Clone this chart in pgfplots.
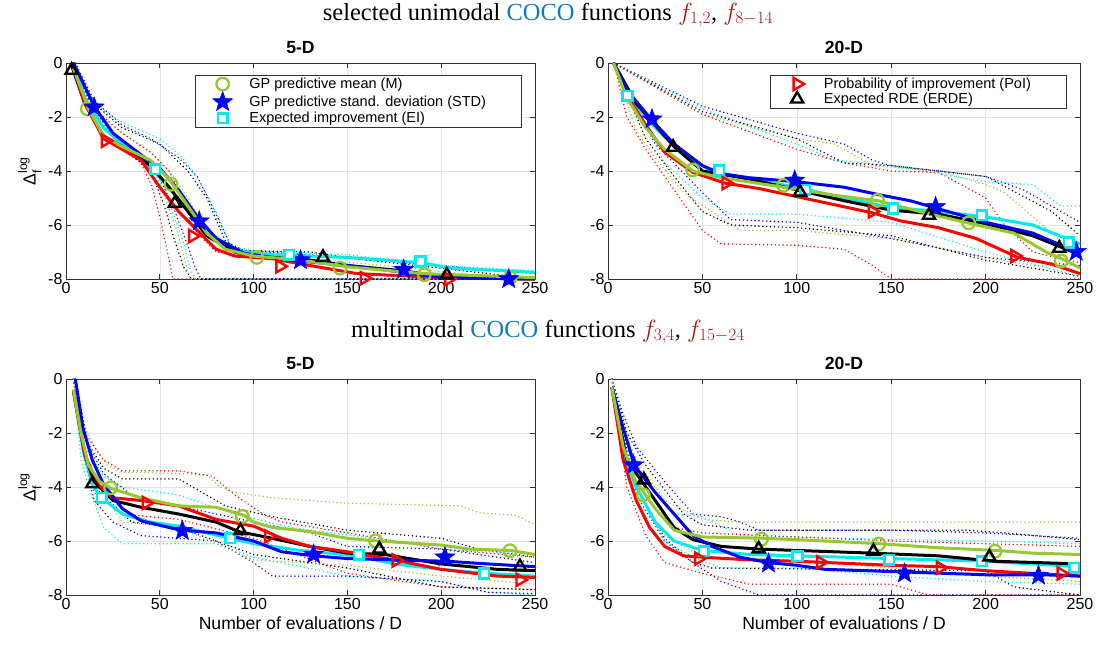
\documentclass[border=0pt]{standalone}
\usepackage{amsmath}
\usepackage{fontspec}
\setmainfont{Liberation Sans}
\newfontfamily\titlefont{Liberation Serif}
\usepackage{pgfplots}
\pgfplotsset{compat=1.18}
\definecolor{mgreen}{RGB}{150,200,50}
\definecolor{mcyan}{RGB}{0,235,240}
\definecolor{mblue}{RGB}{0,0,255}
\definecolor{mred}{RGB}{255,0,0}
\definecolor{cocoblue}{RGB}{20,120,190}
\definecolor{fred}{RGB}{170,20,20}
\pgfdeclareplotmark{fstar}{%
  \pgfmathsetlengthmacro\ri{0.42*\pgfplotmarksize}%
  \pgfpathmoveto{\pgfqpointpolar{90}{\pgfplotmarksize}}%
  \pgfpathlineto{\pgfqpointpolar{126}{\ri}}%
  \pgfpathlineto{\pgfqpointpolar{162}{\pgfplotmarksize}}%
  \pgfpathlineto{\pgfqpointpolar{198}{\ri}}%
  \pgfpathlineto{\pgfqpointpolar{234}{\pgfplotmarksize}}%
  \pgfpathlineto{\pgfqpointpolar{270}{\ri}}%
  \pgfpathlineto{\pgfqpointpolar{306}{\pgfplotmarksize}}%
  \pgfpathlineto{\pgfqpointpolar{342}{\ri}}%
  \pgfpathlineto{\pgfqpointpolar{18}{\pgfplotmarksize}}%
  \pgfpathlineto{\pgfqpointpolar{54}{\ri}}%
  \pgfpathclose
  \pgfusepathqfillstroke}
\pgfplotsset{
  base/.style={
    scale only axis, height=216pt, anchor=south west,
    xmin=0,xmax=250,ymin=-8,ymax=0,
    xtick={0,50,100,150,200,250}, ytick={-8,-6,-4,-2,0},
    grid=major, major grid style={line width=0.6pt, gray!22},
    tick align=inside, tick pos=both, major tick length=5pt,
    axis line style={line width=0.7pt, black!80},
    tick style={line width=0.7pt, black!80},
    tick label style={font=\fontsize{16}{16}\selectfont},
    /pgf/number format/assume math mode=true,
    title style={font=\bfseries\fontsize{17.6}{17.6}\selectfont, yshift=0pt},
    label style={font=\fontsize{17.6}{17.6}\selectfont},
    clip=false,
    legend cell align=left,
    legend style={at={(0.972,0.946)}, anchor=north east, draw=black!80, line width=0.7pt,
      font=\fontsize{14.5}{17}\selectfont, inner xsep=3pt, inner ysep=1.5pt, nodes={inner xsep=2.5pt, inner ysep=1.5pt}},
  },
  wleg/.style={legend image code/.code={\path[draw=none,fill=none] (0cm,0cm) (1.7cm,0cm); \draw[mark repeat=2,mark phase=2,##1] plot coordinates {(0cm,0cm) (0.85cm,0cm) (1.7cm,0cm)};}},
  sol/.style={line width=3pt, line join=round, mark=none, forget plot},
  dts/.style={line width=1.6pt, line cap=round, dash pattern=on 0pt off 3.9pt, mark=none, forget plot},
  mkM/.style={only marks, wleg, mgreen, mark=o, mark size=6.3pt, mark options={line width=2.3pt}},
  mkS/.style={only marks, wleg, mblue, mark=fstar, mark size=10.5pt, mark options={fill=mblue, line width=0.5pt}},
  mkE/.style={only marks, wleg, mcyan, mark=square*, mark size=4.8pt, mark options={fill=white, draw=mcyan, line width=2.6pt}},
  mkP/.style={only marks, wleg, mred, mark=triangle, mark size=7pt, mark options={rotate=-90, line width=2.4pt}},
  mkR/.style={only marks, wleg, black, mark=triangle, mark size=7pt, mark options={line width=2.4pt}},
}
\begin{document}
\begin{tikzpicture}
\useasboundingbox (0,0) rectangle (1097pt,648pt);
\node[font=\titlefont\fontsize{24.5}{24.5}\selectfont] at (548pt,633pt) {selected unimodal \textcolor{cocoblue}{COCO} functions \textcolor{fred}{$f_{1,2}$}, \textcolor{fred}{$f_{8-14}$}};
\node[font=\titlefont\fontsize{24.5}{24.5}\selectfont] at (548pt,316pt) {multimodal \textcolor{cocoblue}{COCO} functions \textcolor{fred}{$f_{3,4}$}, \textcolor{fred}{$f_{15-24}$}};

% ---------------- TL ----------------
\begin{axis}[base, at={(66pt,369pt)}, width=469pt, title={5-D}, ylabel={Δ$_{\text{f}}^{\text{log}}$}]
\addplot[dts,mblue] coordinates {(5,0) (15,-1.4) (30,-2.3) (45,-2.8) (60,-3.5) (70,-4.2) (80,-5.6) (88,-6.8) (95,-6.95) (130,-7.1) (180,-7.4) (250,-7.8)};
\addplot[dts,mcyan] coordinates {(4,0) (15,-1.5) (30,-2.2) (50,-2.8) (62,-3.5) (72,-4.5) (80,-5.5) (88,-6.8) (100,-6.95) (150,-7.1) (200,-7.5) (250,-7.7)};
\addplot[dts,black] coordinates {(4,0) (15,-1.5) (30,-2.4) (50,-3.0) (65,-4.0) (75,-5.0) (85,-6.6) (95,-6.95) (130,-7.0) (160,-7.3) (200,-7.6) (250,-8)};
\addplot[dts,mgreen] coordinates {(4,0) (15,-1.8) (30,-2.6) (45,-3.3) (55,-4.0) (65,-5.0) (75,-6.2) (85,-6.9) (120,-7.2) (170,-7.5) (210,-7.8) (250,-8)};
\addplot[dts,mred] coordinates {(4,0) (15,-1.7) (30,-2.6) (45,-3.3) (55,-4.0) (62,-5.0) (70,-6.3) (80,-7.0) (120,-7.3) (160,-7.6) (200,-7.9) (250,-8)};
\addplot[dts,mred] coordinates {(4,0) (15,-1.9) (30,-3.2) (40,-3.7) (46,-4.6) (51,-6.0) (55,-7.3) (57,-8) (250,-8)};
\addplot[dts,black] coordinates {(4,0) (15,-1.9) (30,-3.1) (45,-4.0) (52,-5.2) (58,-6.6) (63,-7.6) (67,-8) (250,-8)};
\addplot[dts,mgreen] coordinates {(4,0) (15,-1.9) (30,-3.1) (45,-3.9) (53,-5.0) (60,-6.4) (64,-7.5) (66,-8) (250,-8)};
\addplot[dts,mcyan] coordinates {(4,0) (15,-1.8) (30,-3.0) (47,-4.0) (55,-5.2) (62,-6.5) (66,-7.6) (69,-8) (250,-8)};
\addplot[dts,mblue] coordinates {(4,0) (15,-1.8) (30,-3.0) (48,-4.0) (57,-5.3) (64,-6.6) (69,-7.6) (72,-8) (250,-8)};
\addplot[sol,mcyan] coordinates {(4,0) (10,-1.3) (20,-2.4) (35,-3.3) (47,-4.0) (57,-4.8) (67,-5.6) (77,-6.3) (90,-6.95) (110,-7.1) (150,-7.2) (190,-7.4) (205,-7.6) (250,-7.75)};
\addplot[sol,black] coordinates {(3,-0.1) (10,-1.5) (20,-2.7) (35,-3.3) (45,-3.8) (55,-4.6) (65,-5.5) (75,-6.4) (90,-7.0) (100,-7.15) (130,-7.3) (150,-7.5) (180,-7.7) (205,-7.95) (250,-8)};
\addplot[sol,mred] coordinates {(4,-0.2) (10,-1.5) (20,-2.8) (30,-3.2) (40,-3.6) (50,-4.6) (60,-5.5) (70,-6.2) (80,-6.9) (90,-7.15) (110,-7.25) (130,-7.5) (155,-7.8) (200,-7.95) (250,-8)};
\addplot[sol,mblue] coordinates {(4,0) (15,-1.6) (25,-2.6) (40,-3.4) (50,-3.9) (60,-4.7) (70,-5.7) (80,-6.5) (95,-7.05) (120,-7.3) (150,-7.5) (180,-7.75) (200,-7.95) (250,-8)};
\addplot[sol,mgreen] coordinates {(4,-0.2) (12,-1.7) (20,-2.7) (30,-3.1) (45,-3.6) (55,-4.3) (65,-5.3) (75,-6.3) (85,-6.9) (100,-7.15) (125,-7.3) (150,-7.55) (190,-7.8) (250,-7.95)};
\addplot[mkP,forget plot] coordinates {(21,-2.88) (67.5,-6.41) (114,-7.53) (159,-7.97) (204,-8)};
\addplot[mkR,forget plot] coordinates {(3,-0.27) (58,-5.2) (137,-7.2) (203,-7.85)};
\addplot[mkM] coordinates {(11.4,-1.7) (56,-4.49) (101.7,-7.2) (146,-7.6) (191,-7.84) (236.7,-7.96)};
\addlegendentry{GP predictive mean (M)}
\addplot[mkS] coordinates {(15,-1.64) (71,-5.86) (125,-7.3) (180,-7.65) (236,-8)};
\addlegendentry{GP predictive stand. deviation (STD)\hspace*{30pt}}
\addplot[mkE] coordinates {(47.5,-3.93) (119,-7.1) (189,-7.35)};
\addlegendentry{Expected improvement (EI)}
\end{axis}

% ---------------- TR ----------------
\begin{axis}[base, at={(608pt,369pt)}, width=472pt, title={20-D}]
\addplot[dts,mblue] coordinates {(3,0) (50,-1.6) (100,-2.6) (125,-3.0) (140,-3.6) (150,-3.8) (200,-4.2) (220,-4.7) (235,-5.3) (250,-5.9)};
\addplot[dts,mcyan] coordinates {(3,0) (50,-1.7) (100,-3.0) (120,-3.6) (150,-3.8) (200,-4.4) (225,-4.5) (240,-5.3) (250,-5.3)};
\addplot[dts,mgreen] coordinates {(3,0) (50,-1.9) (100,-2.8) (120,-3.0) (140,-3.8) (175,-4.0) (200,-4.5) (210,-4.8) (240,-6.6) (250,-6.9)};
\addplot[dts,black] coordinates {(3,0) (50,-1.8) (100,-2.8) (125,-3.7) (150,-3.8) (200,-4.2) (235,-5.5) (250,-6.4)};
\addplot[dts,mred] coordinates {(3,0) (50,-1.9) (100,-3.2) (125,-3.7) (150,-4.0) (175,-4.05) (200,-5.0) (210,-6.0) (225,-7.0) (250,-7.4)};
\addplot[dts,mred] coordinates {(3,0) (10,-2) (20,-3.2) (30,-4.2) (40,-5.2) (50,-6.2) (60,-6.7) (100,-6.75) (125,-6.9) (140,-7.5) (150,-8) (250,-8)};
\addplot[dts,mgreen] coordinates {(3,0) (15,-2.5) (25,-3.5) (40,-4.8) (55,-5.5) (70,-6.2) (100,-6.2) (150,-6.5) (200,-7.2) (225,-7.5) (250,-7.5)};
\addplot[dts,black] coordinates {(3,0) (20,-2.8) (35,-4.2) (50,-5.5) (65,-6.0) (100,-6.1) (150,-6.4) (200,-7.3) (250,-7.9)};
\addplot[dts,mcyan] coordinates {(3,0) (30,-3.7) (50,-5.0) (65,-5.6) (100,-5.6) (150,-5.9) (200,-7.0) (250,-7.9)};
\addplot[dts,mblue] coordinates {(3,0) (25,-3.0) (50,-4.8) (65,-5.8) (100,-5.9) (150,-6.5) (200,-7.2) (250,-7.5)};
\addplot[sol,mcyan] coordinates {(3,0) (10,-1.2) (25,-2.4) (40,-3.4) (55,-4.0) (75,-4.3) (100,-4.6) (125,-5.0) (150,-5.35) (175,-5.5) (200,-5.7) (225,-6.0) (250,-6.7)};
\addplot[sol,black] coordinates {(3,0) (15,-1.5) (35,-3.1) (50,-4.0) (75,-4.3) (100,-4.7) (125,-5.1) (150,-5.45) (175,-5.6) (200,-5.95) (225,-6.4) (250,-7.1)};
\addplot[sol,mred] coordinates {(3,0) (10,-1.2) (20,-2.3) (30,-3.3) (45,-4.05) (62,-4.45) (80,-4.65) (100,-4.95) (120,-5.25) (140,-5.55) (155,-5.85) (175,-6.1) (195,-6.5) (217,-7.2) (235,-7.45) (250,-7.8)};
\addplot[sol,mblue] coordinates {(3,0) (10,-1.0) (23,-2.1) (35,-3.0) (50,-3.8) (60,-4.1) (75,-4.25) (100,-4.4) (125,-4.6) (145,-4.9) (160,-5.1) (175,-5.4) (200,-5.9) (225,-6.3) (250,-7.05)};
\addplot[sol,mgreen] coordinates {(3,0) (10,-1.3) (20,-2.4) (30,-3.2) (45,-4.0) (60,-4.25) (93,-4.6) (120,-4.9) (143,-5.1) (165,-5.5) (192,-5.95) (215,-6.3) (232,-7.0) (242,-7.3) (250,-7.6)};
\addplot[mkM,forget plot] coordinates {(44.8,-3.96) (93,-4.53) (142.7,-5.09) (191,-5.92) (240,-7.33)};
\addplot[mkS,forget plot] coordinates {(23.3,-2.08) (98.9,-4.35) (173.5,-5.33) (248,-6.99)};
\addplot[mkE,forget plot] coordinates {(10.3,-1.22) (58.8,-3.98) (104.5,-4.69) (151,-5.39) (198,-5.64) (244,-6.65)};
\addplot[mkP] coordinates {(62.5,-4.45) (140,-5.5) (215.5,-7.15)};
\addlegendentry{Probability of improvement (PoI)\hspace*{30pt}}
\addplot[mkR] coordinates {(34.5,-3.12) (101.7,-4.78) (170,-5.64) (239,-6.86)};
\addlegendentry{Expected RDE (ERDE)}
\end{axis}

% ---------------- BL ----------------
\begin{axis}[base, at={(66pt,53pt)}, width=469pt, title={5-D}, ylabel={Δ$_{\text{f}}^{\text{log}}$}, xlabel={Number of evaluations / D}]
\addplot[dts,mgreen] coordinates {(4,0) (10,-1.8) (15,-2.5) (22,-3.2) (30,-3.45) (60,-3.5) (75,-3.55) (82,-4.0) (90,-4.2) (110,-4.4) (150,-4.6) (210,-4.7) (220,-4.95) (240,-5.05) (250,-5.4)};
\addplot[dts,mred] coordinates {(4,0) (10,-2.0) (20,-3.0) (30,-3.4) (60,-3.4) (78,-3.6) (90,-4.3) (105,-5.0) (115,-5.3) (150,-5.7) (200,-6.3) (250,-6.6)};
\addplot[dts,black] coordinates {(4,0) (10,-2.2) (20,-3.3) (30,-3.7) (60,-3.7) (75,-4.3) (85,-4.7) (110,-5.1) (150,-5.6) (200,-5.9) (220,-6.3) (250,-6.6)};
\addplot[dts,mcyan] coordinates {(4,0) (10,-2.5) (20,-3.6) (30,-4.0) (60,-4.3) (90,-5.0) (120,-5.5) (175,-6.0) (200,-6.3) (250,-6.5)};
\addplot[dts,mblue] coordinates {(5,0) (12,-2.5) (20,-3.5) (35,-4.3) (60,-4.7) (100,-5.3) (130,-5.7) (150,-6.2) (200,-6.3) (250,-6.8)};
\addplot[dts,mcyan] coordinates {(4,0) (8,-3.0) (12,-4.0) (20,-5.5) (30,-6.1) (80,-6.1) (100,-6.6) (150,-7.3) (200,-7.5) (225,-7.9) (250,-8)};
\addplot[dts,mblue] coordinates {(5,0) (10,-3.0) (15,-4.5) (25,-5.3) (40,-5.8) (80,-6.0) (100,-6.8) (110,-7.3) (150,-7.3) (200,-7.5) (225,-7.9) (250,-7.95)};
\addplot[dts,mred] coordinates {(4,0) (10,-3.0) (15,-4.2) (30,-5.0) (60,-5.2) (100,-5.9) (150,-7.2) (200,-7.7) (250,-7.8)};
\addplot[dts,black] coordinates {(4,0) (10,-2.8) (15,-4.0) (35,-5.3) (60,-5.5) (100,-6.5) (150,-7.0) (200,-7.7) (250,-7.8)};
\addplot[dts,mgreen] coordinates {(4,0) (10,-2.6) (15,-3.8) (30,-5.3) (60,-5.5) (100,-6.7) (150,-6.9) (200,-7.3) (250,-7.6)};
\addplot[sol,mcyan] coordinates {(4,-0.4) (9,-2.6) (14,-3.9) (19,-4.4) (30,-5.0) (45,-5.3) (60,-5.45) (87,-5.9) (100,-6.1) (125,-6.35) (155,-6.55) (175,-6.85) (200,-7.05) (225,-7.2) (250,-7.3)};
\addplot[sol,black] coordinates {(4,-0.4) (10,-2.8) (15,-3.8) (25,-4.5) (40,-4.75) (60,-5.0) (80,-5.3) (92,-5.65) (110,-5.9) (130,-6.2) (150,-6.45) (170,-6.5) (200,-6.85) (230,-7.05) (250,-7.1)};
\addplot[sol,mred] coordinates {(4,-0.5) (10,-2.8) (17,-3.9) (25,-4.4) (40,-4.5) (60,-4.7) (80,-5.2) (100,-5.45) (115,-5.9) (130,-6.2) (150,-6.4) (175,-6.7) (200,-7.05) (230,-7.3) (250,-7.35)};
\addplot[sol,mblue] coordinates {(5,0) (9,-1.8) (14,-3.0) (20,-3.9) (30,-4.8) (40,-5.25) (55,-5.5) (62,-5.6) (80,-5.7) (100,-6.0) (115,-6.4) (132,-6.55) (150,-6.65) (175,-6.7) (203,-6.75) (225,-6.85) (250,-6.95)};
\addplot[sol,mgreen] coordinates {(4,-0.4) (8,-2) (12,-3.2) (18,-3.8) (24,-4.05) (40,-4.4) (60,-4.7) (80,-4.75) (95,-5.05) (100,-5.3) (110,-5.5) (130,-5.65) (150,-5.9) (166,-6.0) (200,-6.15) (215,-6.3) (237,-6.35) (250,-6.5)};
\addplot[mkM,forget plot] coordinates {(23.8,-4.03) (94,-5.09) (165,-5.99) (236.7,-6.36)};
\addplot[mkS,forget plot] coordinates {(62,-5.62) (132,-6.5) (202,-6.6)};
\addplot[mkE,forget plot] coordinates {(19,-4.4) (87.5,-5.89) (156,-6.51) (223,-7.2)};
\addplot[mkP,forget plot] coordinates {(42.8,-4.59) (108,-5.83) (176,-6.72) (242,-7.44)};
\addplot[mkR,forget plot] coordinates {(14,-3.88) (93,-5.62) (167,-6.3) (242,-6.95)};
\end{axis}

% ---------------- BR ----------------
\begin{axis}[base, at={(608pt,53pt)}, width=472pt, title={20-D}, xlabel={Number of evaluations / D}]
\addplot[dts,mgreen] coordinates {(2,0) (8,-1.8) (15,-3.0) (30,-4.5) (50,-5.2) (70,-5.3) (250,-5.3)};
\addplot[dts,mblue] coordinates {(2,0) (8,-1.3) (15,-2.5) (30,-3.8) (45,-5.0) (60,-5.1) (70,-5.3) (80,-5.6) (150,-5.6) (200,-5.7) (250,-5.9)};
\addplot[dts,black] coordinates {(2,0) (10,-2.0) (20,-3.2) (40,-5.0) (50,-5.4) (75,-5.6) (190,-5.6) (210,-5.7) (250,-5.95)};
\addplot[dts,mcyan] coordinates {(2,0) (10,-2.3) (20,-3.8) (35,-5.0) (50,-5.1) (70,-5.8) (150,-5.95) (200,-6.0) (250,-6.1)};
\addplot[dts,mred] coordinates {(2,0) (10,-2.5) (20,-4.0) (35,-5.5) (50,-5.7) (150,-6.0) (250,-6.2)};
\addplot[dts,mred] coordinates {(2,0) (10,-4.0) (20,-5.8) (30,-6.8) (50,-7.2) (75,-7.6) (150,-7.6) (170,-8) (250,-8)};
\addplot[dts,mblue] coordinates {(2,0) (15,-4.3) (30,-6.0) (45,-6.8) (60,-7.5) (80,-8) (250,-8)};
\addplot[dts,black] coordinates {(2,0) (15,-4.0) (30,-5.9) (45,-6.8) (55,-7.0) (200,-7.1) (215,-7.7) (250,-8)};
\addplot[dts,mcyan] coordinates {(2,0) (15,-4.0) (30,-6.0) (45,-6.6) (60,-7.0) (100,-7.0) (150,-7.3) (200,-7.5) (250,-7.6)};
\addplot[dts,mgreen] coordinates {(2,0) (12,-3.7) (30,-5.8) (50,-6.6) (100,-6.7) (150,-7.0) (200,-7.3) (250,-7.5)};
\addplot[sol,mcyan] coordinates {(2,-0.3) (8,-2.8) (15,-4.0) (25,-5.3) (35,-6.0) (50,-6.35) (75,-6.5) (100,-6.55) (150,-6.65) (200,-6.75) (250,-6.95)};
\addplot[sol,black] coordinates {(2,-0.3) (10,-3.0) (18,-3.8) (25,-4.5) (35,-5.5) (45,-5.95) (60,-6.2) (80,-6.3) (100,-6.35) (140,-6.45) (175,-6.55) (205,-6.75) (250,-6.85)};
\addplot[sol,mred] coordinates {(2,-0.3) (8,-3.0) (15,-4.5) (22,-5.5) (30,-6.2) (40,-6.55) (50,-6.6) (75,-6.7) (100,-6.75) (150,-6.9) (175,-6.95) (200,-7.1) (225,-7.2) (250,-7.3)};
\addplot[sol,mblue] coordinates {(2,-0.3) (8,-1.8) (14,-3.2) (25,-4.2) (35,-5.0) (45,-5.8) (55,-6.2) (70,-6.6) (85,-6.8) (100,-6.9) (115,-7.05) (158,-7.15) (200,-7.25) (230,-7.25) (250,-7.3)};
\addplot[sol,mgreen] coordinates {(2,-0.3) (8,-2.5) (14,-3.7) (20,-4.3) (25,-4.8) (35,-5.6) (50,-5.85) (83,-5.9) (100,-5.95) (144,-6.1) (175,-6.25) (206,-6.35) (225,-6.45) (250,-6.5)};
\addplot[mkM,forget plot] coordinates {(18.7,-4.29) (81.3,-5.93) (143.4,-6.11) (205,-6.38)};
\addplot[mkS,forget plot] coordinates {(13.5,-3.19) (85,-6.83) (157,-7.2) (228,-7.28)};
\addplot[mkE,forget plot] coordinates {(50.8,-6.38) (100.4,-6.56) (149,-6.69) (198,-6.75) (247,-6.99)};
\addplot[mkP,forget plot] coordinates {(48,-6.65) (112.6,-6.79) (176,-6.99) (240,-7.2)};
\addplot[mkR,forget plot] coordinates {(19,-3.74) (79.8,-6.29) (140.6,-6.38) (202,-6.59)};
\end{axis}
\end{tikzpicture}
\end{document}
